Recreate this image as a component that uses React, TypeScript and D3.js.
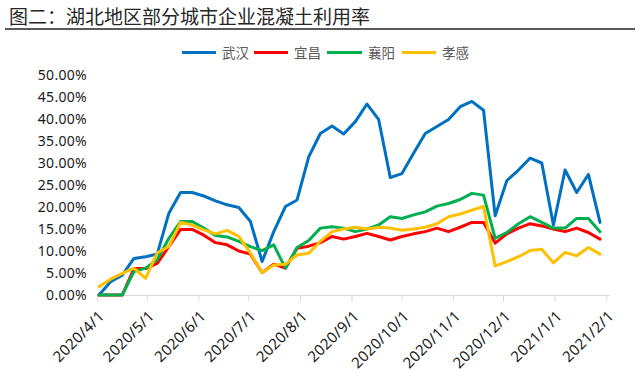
import React from "react";
import * as d3 from "d3";

const dates: string[] = [
  "2020-04-02", "2020-04-09", "2020-04-16", "2020-04-23", "2020-04-30",
  "2020-05-07", "2020-05-14", "2020-05-21", "2020-05-28", "2020-06-04",
  "2020-06-11", "2020-06-18", "2020-06-25", "2020-07-02", "2020-07-09",
  "2020-07-16", "2020-07-23", "2020-07-30", "2020-08-06", "2020-08-13",
  "2020-08-20", "2020-08-27", "2020-09-03", "2020-09-10", "2020-09-17",
  "2020-09-24", "2020-10-01", "2020-10-08", "2020-10-15", "2020-10-22",
  "2020-10-29", "2020-11-05", "2020-11-12", "2020-11-19", "2020-11-26",
  "2020-12-03", "2020-12-10", "2020-12-17", "2020-12-24", "2020-12-31",
  "2021-01-07", "2021-01-14", "2021-01-21", "2021-01-28",
];

const wuhan: number[] = [
  0, 3.0, 4.5, 8.3, 8.7, 9.3, 18.6, 23.3, 23.3, 22.5, 21.4, 20.5, 19.9, 16.7,
  7.6, 14.4, 20.1, 21.6, 31.4, 36.7, 38.4, 36.6, 39.4, 43.4, 39.9, 26.7, 27.6,
  32.2, 36.7, 38.3, 39.9, 42.8, 44.0, 42.0, 18.0, 26.0, 28.4, 31.1, 30.0, 15.9,
  28.4, 23.3, 27.4, 16.5,
];
const yichang: number[] = [
  0, 0, 0, 6.0, 6.0, 7.2, 11.0, 14.9, 14.9, 13.6, 11.9, 11.4, 10.0, 9.3, 5.1,
  7.0, 6.1, 10.6, 11.1, 11.9, 13.3, 12.7, 13.3, 14.0, 13.3, 12.5, 13.3, 13.9,
  14.4, 15.2, 14.4, 15.4, 16.5, 16.5, 11.8, 13.9, 15.2, 16.2, 15.7, 15.0, 14.4,
  15.2, 14.2, 12.7,
];
const xiangyang: number[] = [
  0, 0, 0, 5.3, 6.1, 8.0, 12.9, 16.7, 16.7, 15.2, 13.5, 13.2, 12.2, 11.0, 10.1,
  11.4, 6.1, 10.8, 12.4, 15.2, 15.5, 15.2, 14.4, 15.0, 15.9, 17.8, 17.4, 18.2,
  18.9, 20.2, 20.8, 21.7, 23.1, 22.7, 12.9, 14.2, 16.2, 17.8, 16.5, 15.2, 15.2,
  17.4, 17.4, 14.4,
];
const xiaogan: number[] = [
  1.9, 3.6, 4.9, 6.1, 3.8, 9.6, 11.0, 16.5, 15.9, 14.8, 13.9, 14.7, 13.3, 9.5,
  5.1, 6.8, 7.0, 9.1, 9.5, 12.2, 14.4, 15.0, 15.4, 15.0, 15.4, 15.2, 14.7, 15.0,
  15.4, 16.2, 17.8, 18.4, 19.3, 20.1, 6.6, 7.6, 8.7, 10.1, 10.4, 7.3, 9.7, 8.9,
  10.8, 9.3,
];

const seriesNames: string[] = ["武汉", "宜昌", "襄阳", "孝感"];
const seriesColors: string[] = ["#0070C0", "#FF0000", "#00B050", "#FFC000"];
const seriesValues: number[][] = [wuhan, yichang, xiangyang, xiaogan];

const yTicks: number[] = [0, 5, 10, 15, 20, 25, 30, 35, 40, 45, 50];
const title = "图二：湖北地区部分城市企业混凝土利用率";

const parseDate = d3.timeParse("%Y-%m-%d");

export default function App() {
  const W = 640;
  const H = 385;
  const x = d3
    .scaleTime()
    .domain([new Date(2020, 3, 1), new Date(2021, 1, 1)])
    .range([97.3, 606.7]);
  const y = d3.scaleLinear().domain([0, 50]).range([295, 75]);
  const monthTicks = d3.timeMonth.range(new Date(2020, 3, 1), new Date(2021, 1, 2));
  const dateObjs = dates.map((d) => parseDate(d) as Date);

  const line = d3
    .line<number>()
    .x((_, i) => x(dateObjs[i]))
    .y((v) => y(v));

  const axisFont = "'Noto Sans', 'DejaVu Sans', sans-serif";
  const cjkFont = "'Noto Sans CJK SC', sans-serif";

  const legendLines = [
    [182, 216],
    [254, 288],
    [327, 362],
    [402, 436],
  ];

  return (
    <svg
      width={W}
      height={H}
      style={{ position: "absolute", left: 0, top: 0, background: "#fff" }}
    >
      <rect x={0} y={0} width={W} height={H} fill="#fff" />
      <text x={9} y={24} fontFamily={cjkFont} fontSize={19} fill="#262626">
        {title}
      </text>
      <line x1={5} x2={635} y1={29} y2={29} stroke="#595959" strokeWidth={2} />

      {seriesNames.map((n, i) => (
        <g key={n}>
          <line
            x1={legendLines[i][0]}
            x2={legendLines[i][1]}
            y1={52.5}
            y2={52.5}
            stroke={seriesColors[i]}
            strokeWidth={3}
          />
          <text
            x={legendLines[i][1] + 6}
            y={57.5}
            fontFamily={cjkFont}
            fontSize={13.5}
            fill="#595959"
          >
            {n}
          </text>
        </g>
      ))}

      {yTicks.map((t) => (
        <text
          key={t}
          x={87}
          y={y(t)}
          dy="0.35em"
          textAnchor="end"
          fontFamily={axisFont}
          fontSize={14}
          letterSpacing={0.3}
          fill="#1a1a1a"
        >
          {t.toFixed(2) + "%"}
        </text>
      ))}

      <line x1={97.3} x2={610} y1={295.5} y2={295.5} stroke="#d9d9d9" strokeWidth={1} />
      {monthTicks.map((m) => (
        <g key={m.getTime()}>
          <line
            x1={x(m)}
            x2={x(m)}
            y1={295.5}
            y2={301.5}
            stroke="#d9d9d9"
            strokeWidth={1}
          />
          <text
            transform={`translate(${x(m) + 8},${317}) rotate(-45)`}
            textAnchor="end"
            fontFamily={axisFont}
            fontSize={15}
            letterSpacing={0.3}
            fill="#1a1a1a"
          >
            {`${m.getFullYear()}/${m.getMonth() + 1}/1`}
          </text>
        </g>
      ))}

      {seriesValues.map((vals, i) => (
        <path
          key={seriesNames[i]}
          d={line(vals) || ""}
          fill="none"
          stroke={seriesColors[i]}
          strokeWidth={3}
          strokeLinejoin="round"
          strokeLinecap="round"
        />
      ))}
    </svg>
  );
}
